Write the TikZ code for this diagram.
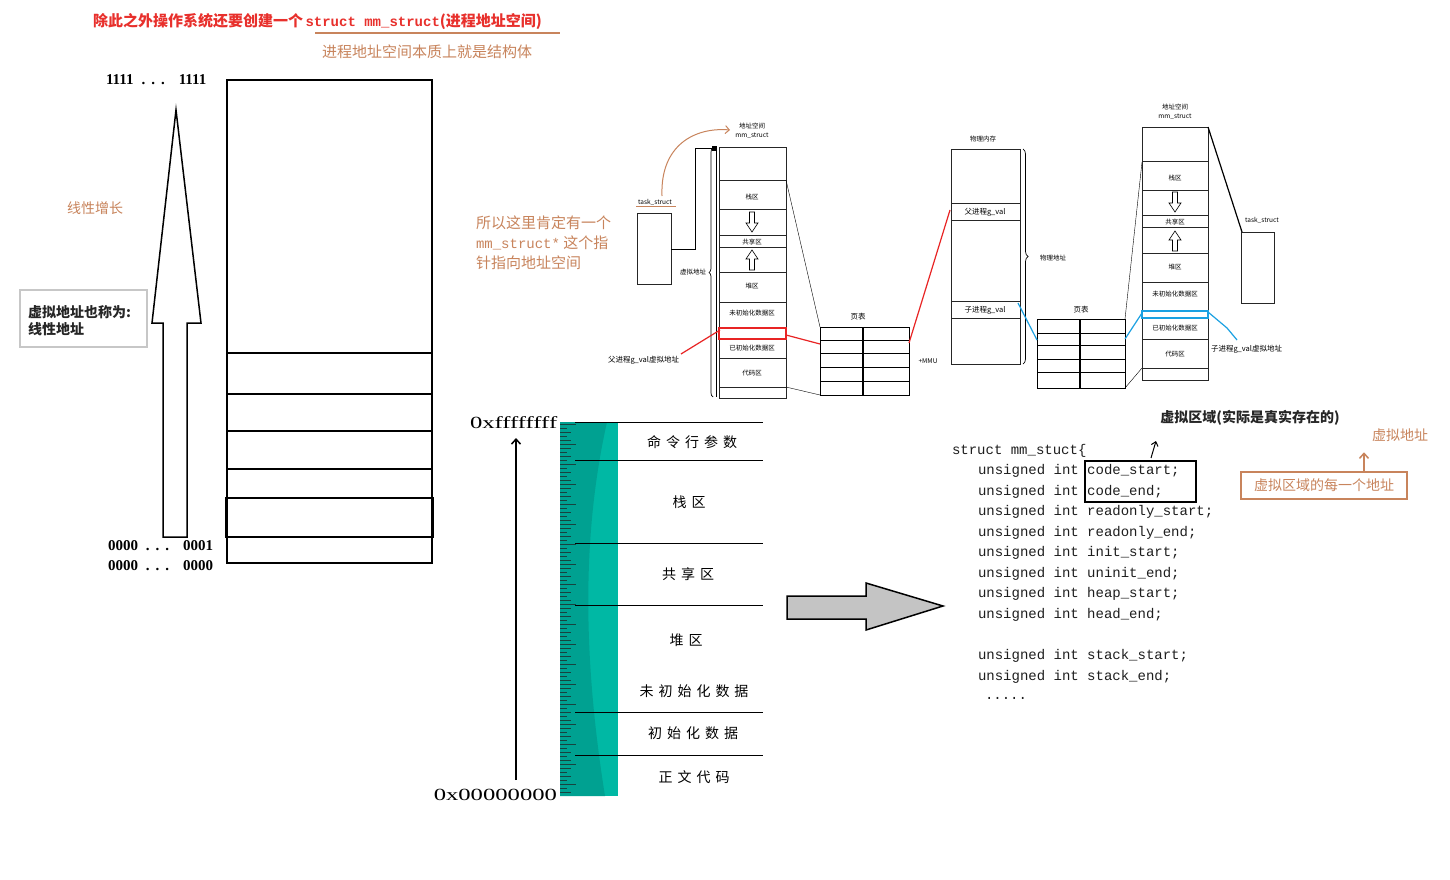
\documentclass[tikz,border=0pt]{standalone}
\usepackage{fontspec}
\setmainfont{Liberation Serif}
\newfontfamily\cjk{Noto Sans CJK SC}
\newfontfamily\mono{Liberation Mono}
\newfontfamily\wideserif[FakeStretch=1.45]{Liberation Serif}
\usetikzlibrary{arrows.meta,decorations.pathreplacing}
\newcommand\myfs[1]{\fontsize{#1}{#1}\selectfont}
\newcommand\gp{\hspace{5pt}}
\definecolor{hdrred}{HTML}{E8302C}
\definecolor{mybrown}{HTML}{C8845C}
\definecolor{tealA}{HTML}{00B8A4}
\definecolor{tealB}{HTML}{00A191}
\definecolor{tickc}{HTML}{17433F}
\definecolor{myblue}{HTML}{1BA1E2}
\definecolor{myred}{HTML}{E82424}
\definecolor{codec}{HTML}{1E1E1E}
\tikzset{
  txt/.style={inner sep=0pt, outer sep=0pt},
  tiny/.style={txt, font=\cjk\myfs{6.5}},
  small/.style={txt, font=\cjk\myfs{7.5}},
  thinbox/.style={draw=black!85, line width=0.6pt},
  code/.style={txt, anchor=west, font=\mono\myfs{14}, text=codec},
  seg/.style={txt, font=\cjk\myfs{14}},
  bigbox/.style={draw=black, line width=1.5pt},
  dnarrow/.pic={\draw[line width=0.6pt,fill=white] (-2.5,0)--(2.5,0)--(2.5,11)--(6,11)--(0,20)--(-6,11)--(-2.5,11)--cycle;},
  uparrow/.pic={\draw[line width=0.6pt,fill=white] (-2.5,20)--(2.5,20)--(2.5,9)--(6,9)--(0,0)--(-6,9)--(-2.5,9)--cycle;},
}
\begin{document}
\begin{tikzpicture}[x=1pt,y=-1pt]
\useasboundingbox (0,0) rectangle (1450,880);
\fill[white] (0,0) rectangle (1450,880);

% ---------- header ----------
\node[txt, anchor=west, text=hdrred] (hdr) at (93,22) {{\cjk\bfseries\myfs{15}除此之外操作系统还要创建一个} {\mono\bfseries\myfs{14}struct mm\_struct}{\cjk\bfseries\myfs{15}(进程地址空间)}};
\draw[mybrown, line width=1.5pt] (315,33) -- (560,33);
\node[txt, anchor=west, text=mybrown, font=\cjk\myfs{15}] (hdr2) at (322,52) {进程地址空间本质上就是结构体};

% ---------- left ----------
\node[txt, anchor=west, font=\bfseries\myfs{15}] (top1) at (106,80) {1111\hspace{8pt}.\hspace{6pt}.\hspace{6pt}.\hspace{14pt}1111};
\node[txt, anchor=west, font=\bfseries\myfs{15}] (bot1) at (108,546) {0000\hspace{8pt}.\hspace{6pt}.\hspace{6pt}.\hspace{14pt}0001};
\node[txt, anchor=west, font=\bfseries\myfs{15}] (bot0) at (108,566) {0000\hspace{8pt}.\hspace{6pt}.\hspace{6pt}.\hspace{14pt}0000};
\draw[bigbox] (227,80) rectangle (432,563);
\draw[bigbox] (227,353) rectangle (432,394);
\draw[bigbox] (227,431) rectangle (432,469);
\draw[bigbox] (226,498) rectangle (433,537);
\draw[line width=1.5pt, line join=miter] (176,110)--(201,323)--(187,323)--(187,537)--(163,537)--(163,323)--(152,323)--cycle;
\node[txt, text=mybrown, font=\cjk\myfs{14}] (grow) at (95,208) {线性增长};
\draw[draw=black!22, line width=1.5pt] (20,290) rectangle (147,347);
\node[txt, anchor=west, align=left, font=\cjk\bfseries\myfs{14}, text=black!85] (lin) at (28,321) {虚拟地址也称为:\\[3pt]线性地址};

% ---------- middle: memory layout ----------
\fill[tealA] (560,422) rectangle (618,796);
\fill[tealB] (560,422) -- (607,422) .. controls (585,520) and (580,640) .. (605,796) -- (560,796) -- cycle;
\foreach \i in {0,...,92} {
  \pgfmathsetmacro\yy{424+4*\i}
  \pgfmathsetmacro\ll{ifthenelse(mod(\i,5)==0,16,ifthenelse(mod(\i,2)==0,11,7))}
  \draw[tickc, line width=0.9pt] (560,\yy) -- ++(\ll,0);
}
\foreach \yy in {422,460,543,605,712,755} { \draw[black, line width=0.7pt] (575,\yy) -- (763,\yy); }
\node[txt, anchor=west, font=\wideserif\myfs{17}] (hi) at (470,423) {0xffffffff};
\node[txt, anchor=east, font=\wideserif\myfs{17}] (lo) at (557,795) {0x00000000};
\coordinate (abot) at (516,780);
\coordinate (atop) at (516,438);
\draw[line width=1.5pt, -{Straight Barb[length=5pt,width=9pt]}] (abot) -- (atop);
\node[seg] (s1) at (692,442) {命\gp 令\gp 行\gp 参\gp 数};
\node[seg] (s2) at (689,502) {栈\gp 区};
\node[seg] (s3) at (688,574) {共\gp 享\gp 区};
\node[seg] (s4) at (686,640) {堆\gp 区};
\node[seg] (s5) at (694,691) {未\gp 初\gp 始\gp 化\gp 数\gp 据};
\node[seg] (s6) at (693,733) {初\gp 始\gp 化\gp 数\gp 据};
\node[seg] (s7) at (694,777) {正\gp 文\gp 代\gp 码};

% ---------- gray arrow ----------
\draw[fill=black!23, line width=1.5pt] (787,596)--(866,596)--(866,583)--(943,606)--(866,630)--(866,619)--(787,619)--cycle;

% ---------- code ----------
\node[code] (c0) at (952,451) {struct mm\_stuct\{};
\node[code] (c1) at (978,471) {unsigned int code\_start;};
\node[code] (c2) at (978,492) {unsigned int code\_end;};
\node[code] (c3) at (978,512) {unsigned int readonly\_start;};
\node[code] (c4) at (978,533) {unsigned int readonly\_end;};
\node[code] (c5) at (978,553) {unsigned int init\_start;};
\node[code] (c6) at (978,574) {unsigned int uninit\_end;};
\node[code] (c7) at (978,594) {unsigned int heap\_start;};
\node[code] (c8) at (978,615) {unsigned int head\_end;};
\node[code] (c9) at (978,656) {unsigned int stack\_start;};
\node[code] (c10) at (978,677) {unsigned int stack\_end;};
\node[code] (c11) at (985,698) {.....};
\draw[line width=1.6pt] (1085,461) rectangle (1196,502);
\node[txt, font=\cjk\bfseries\myfs{14}, text=black!85] (vreg) at (1250,418) {虚拟区域(实际是真实存在的)};
\coordinate (sa1) at (1151,458);
\coordinate (sa2) at (1156,441);
\draw[line width=1pt, -{Straight Barb[length=4pt,width=7pt]}] (sa1) -- (sa2);
\node[txt, font=\cjk\myfs{14}, text=mybrown] (vaddr) at (1400,435) {虚拟地址};
\node[draw=mybrown, line width=1.5pt, minimum width=166pt, minimum height=27pt, inner sep=0pt, font=\cjk\myfs{14}, text=mybrown] (every) at (1324,485.5) {虚拟区域的每一个地址};
\draw[mybrown, line width=1.5pt, -{Straight Barb[length=5pt,width=9pt]}] (every.north -| vaddr.south west) ++(-8,0) coordinate (ba) -- ++(0,-19);

% ---------- mid text ----------
\node[txt, anchor=west, align=left, text=mybrown, font=\cjk\myfs{15}] (sotext) at (476,243) {所以这里肯定有一个\\[5pt]{\mono\myfs{14}mm\_struct*} 这个指\\[5pt]针指向地址空间};

% ---------- diagram 1 ----------
\node[tiny] (as1a) at (752,126) {地址空间};
\node[tiny] (as1b) at (752,136) {mm\_struct};
\draw[thinbox] (719,147) rectangle (786,398);
\foreach \yy in {180,209,235,247,272,302,358,387} { \draw[thinbox] (719,\yy) -- (786,\yy); }
\draw[myred, line width=1.2pt] (719,328) rectangle (786,339);
\node[tiny] (k1) at (752,197) {栈区};
\node[tiny] (k2) at (752,242) {共享区};
\node[tiny] (k3) at (752,286) {堆区};
\node[tiny] (k4) at (752,313) {未初始化数据区};
\node[tiny] (k5) at (752,348) {已初始化数据区};
\node[tiny] (k6) at (752,373) {代码区};
\pic at (752,212) {dnarrow};
\pic at (752,250) {uparrow};
\draw[line width=0.7pt, decorate, decoration={brace, amplitude=4pt}] (713,397) -- (713,148);
\draw[line width=0.5pt] (716,148) -- (716,397);
\node[tiny, anchor=east] (va1) at (706,272) {虚拟地址};
\draw[thinbox] (637,213) rectangle (671,284);
\node[tiny] (ts1) at (655,202) {task\_struct};
\draw[mybrown, line width=0.7pt] (636,206.5) -- (676,206.5);
\draw[line width=0.7pt] (671,249) -- (695,249) -- (695,148) -- (716,148);
\fill (712,146) rectangle (717,151);
\draw[mybrown, line width=1pt, -{Straight Barb[length=4pt,width=8pt]}] (662,196) .. controls (660,145) and (695,127) .. (730,130);
% page table 1
\draw[line width=0.9pt] (820,327) rectangle (909,395);
\draw[line width=1.1pt] (863,327) -- (863,395);
\foreach \yy in {340,353,367,381} { \draw[line width=0.8pt] (820,\yy) -- (909,\yy); }
\node[small] (pt1) at (858,317) {页表};
\draw[line width=0.4pt] (786,180) -- (820,327);
\draw[line width=0.4pt] (786,387) -- (820,395);
\node[small, anchor=west] (fv) at (608,360) {父进程g\_val虚拟地址};
\draw[myred, line width=1.2pt] (681,354) -- (720,330);
\draw[myred, line width=1.2pt] (786,335) -- (820,344);
\draw[myred, line width=1.2pt] (909,343) -- (950,210);
\node[tiny] (mmu) at (928,361) {+MMU};

% ---------- physical memory ----------
\node[tiny] (pm) at (983,139) {物理内存};
\draw[thinbox] (951,149) rectangle (1020,364);
\foreach \yy in {203,220,301,318} { \draw[thinbox] (951,\yy) -- (1020,\yy); }
\node[small] (pg) at (985,212) {父进程g\_val};
\node[small] (cg) at (985,310) {子进程g\_val};
\draw[line width=0.7pt, decorate, decoration={brace, amplitude=5pt}] (1023,149) -- (1023,364);
\node[tiny] (paddr) at (1053,258) {物理地址};
% page table 2
\draw[line width=0.9pt] (1037,319) rectangle (1125,388);
\draw[line width=1.1pt] (1080,319) -- (1080,388);
\foreach \yy in {333,345,359,372} { \draw[line width=0.8pt] (1037,\yy) -- (1125,\yy); }
\node[small] (pt2) at (1081,310) {页表};
\draw[myblue, line width=1.2pt] (1018,303) -- (1037,340);
\draw[myblue, line width=1.2pt] (1125,339) -- (1142,313);
\draw[myblue, line width=1.2pt] (1208,312) -- (1227,328) -- (1237,340);
\draw[line width=0.4pt] (1125,319) -- (1142,162);
\draw[line width=0.4pt] (1125,388) -- (1142,368);

% ---------- diagram 2 column ----------
\node[tiny] (as2a) at (1175,107) {地址空间};
\node[tiny] (as2b) at (1175,117) {mm\_struct};
\draw[thinbox] (1142,127) rectangle (1208,380);
\foreach \yy in {161,190,215,227,253,282,339,368} { \draw[thinbox] (1142,\yy) -- (1208,\yy); }
\draw[myblue, line width=1.2pt] (1142,311) rectangle (1208,318);
\node[tiny] (m1) at (1175,178) {栈区};
\node[tiny] (m2) at (1175,222) {共享区};
\node[tiny] (m3) at (1175,267) {堆区};
\node[tiny] (m4) at (1175,294) {未初始化数据区};
\node[tiny] (m5) at (1175,328) {已初始化数据区};
\node[tiny] (m6) at (1175,354) {代码区};
\pic at (1175,192) {dnarrow};
\pic at (1175,231) {uparrow};
\node[small, anchor=west] (cv) at (1211,349) {子进程g\_val虚拟地址};
\draw[thinbox] (1241,232) rectangle (1274,303);
\node[tiny] (ts2) at (1262,220) {task\_struct};
\draw[line width=1.2pt] (1208,127) -- (1242,232);
\end{tikzpicture}
\end{document}
